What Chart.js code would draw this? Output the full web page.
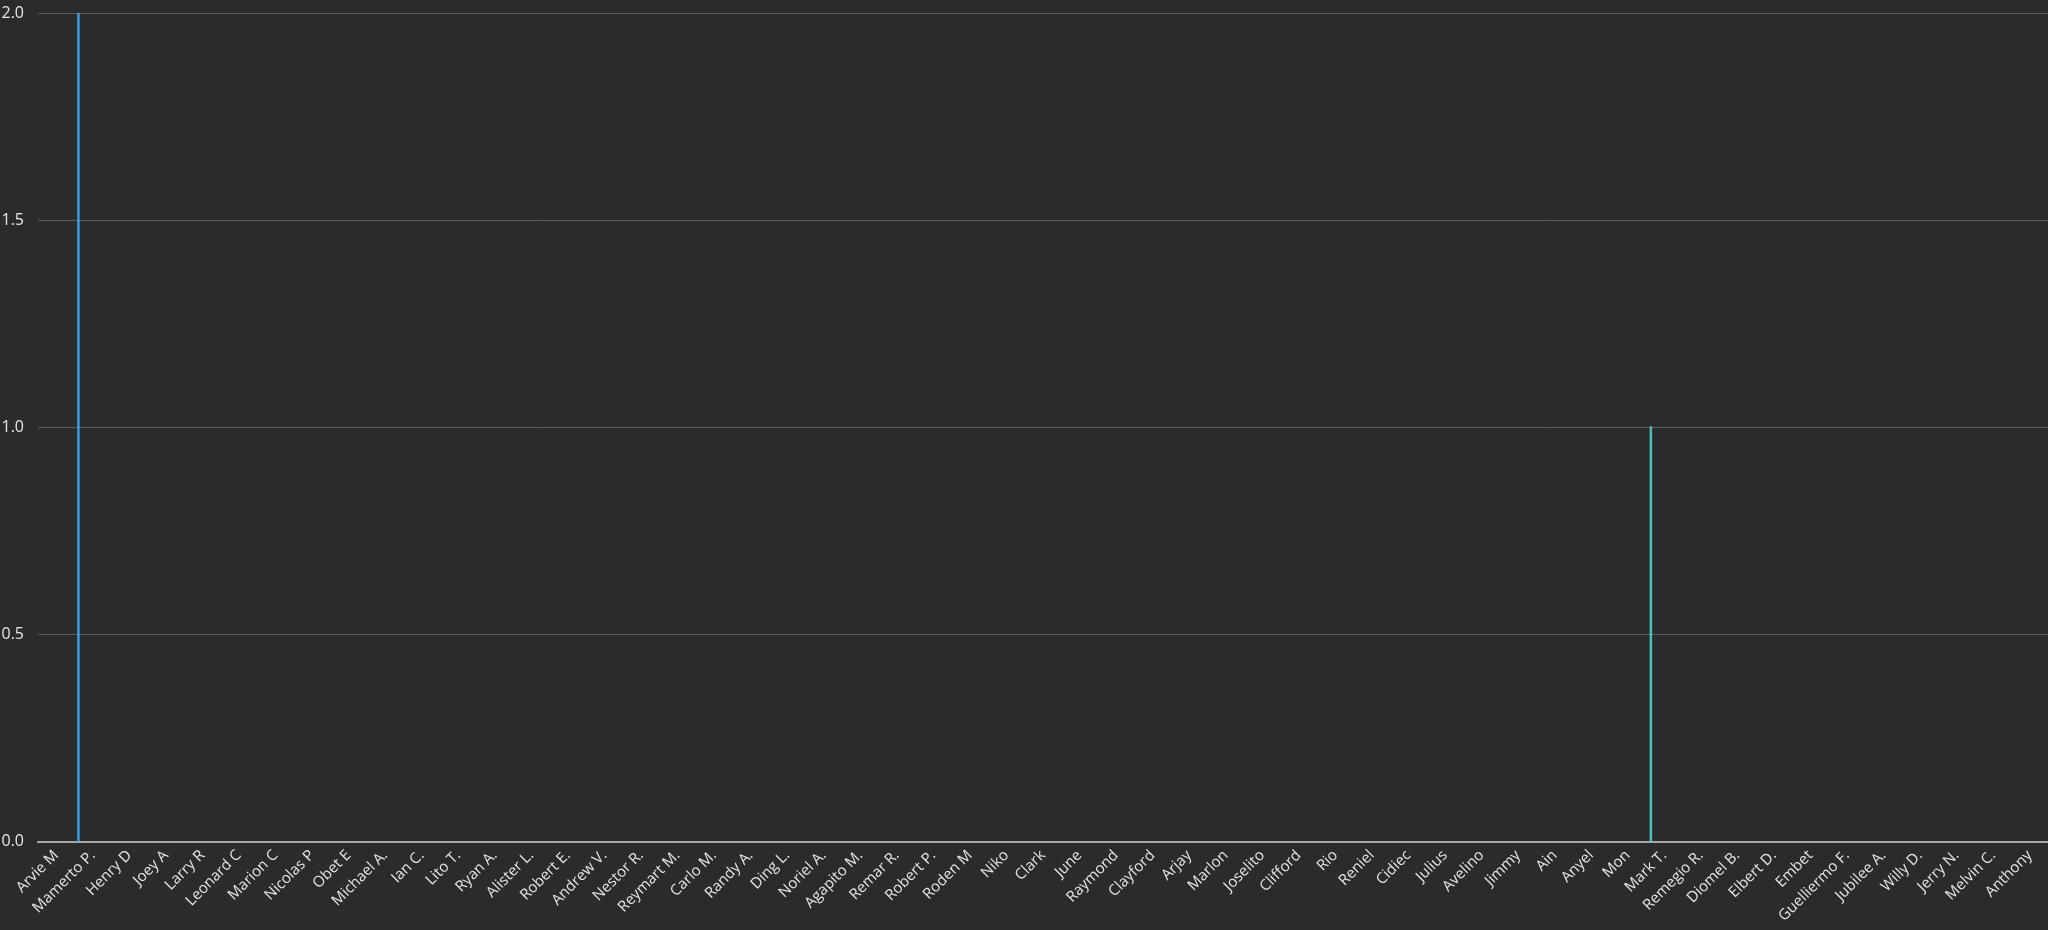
<!DOCTYPE html>
<html>
<head>
<meta charset="utf-8">
<script src="https://cdn.jsdelivr.net/npm/chart.js@4.4.1/dist/chart.umd.min.js"></script>
<style>
  html, body { margin: 0; padding: 0; background: #2b2b2b; }
  #wrap { width: 2048px; height: 930px; position: relative; }
</style>
</head>
<body>
<div id="wrap"><canvas id="myChart"></canvas></div>
<script>
var names = [
  'Arvie M', 'Mamerto P.', 'Henry D', 'Joey A', 'Larry R', 'Leonard C', 'Marion C',
  'Nicolas P', 'Obet E', 'Michael A.', 'Ian C.', 'Lito T.', 'Ryan A.', 'Alister L.',
  'Robert E.', 'Andrew V.', 'Nestor R.', 'Reymart M.', 'Carlo M.', 'Randy A.', 'Ding L.',
  'Noriel A.', 'Agapito M.', 'Remar R.', 'Robert P.', 'Roden M', 'Niko', 'Clark', 'June',
  'Raymond', 'Clayford', 'Arjay', 'Marlon', 'Joselito', 'Clifford', 'Rio', 'Reniel',
  'Cidiec', 'Julius', 'Avelino', 'Jimmy', 'Ain', 'Anyel', 'Mon', 'Mark T.', 'Remegio R.',
  'Diomel B.', 'Elbert D.', 'Embet', 'Guelliermo F.', 'Jubilee A.', 'Willy D.', 'Jerry N.',
  'Melvin C.', 'Anthony'
];

// the two series that have counts (first and third slot of each group)
var firstSeries = [
  0, 2, 0, 0, 0, 0, 0, 0, 0, 0, 0, 0, 0, 0, 0, 0, 0, 0, 0, 0, 0, 0, 0, 0, 0, 0, 0, 0,
  0, 0, 0, 0, 0, 0, 0, 0, 0, 0, 0, 0, 0, 0, 0, 0, 0, 0, 0, 0, 0, 0, 0, 0, 0, 0, 0
];
var thirdSeries = [
  0, 0, 0, 0, 0, 0, 0, 0, 0, 0, 0, 0, 0, 0, 0, 0, 0, 0, 0, 0, 0, 0, 0, 0, 0, 0, 0, 0,
  0, 0, 0, 0, 0, 0, 0, 0, 0, 0, 0, 0, 0, 0, 0, 0, 1, 0, 0, 0, 0, 0, 0, 0, 0, 0, 0
];
var yTickLabels = ['0.0', '0.5', '1.0', '1.5', '2.0'];

var palette = ['#36A2EB', '#FF6384', '#4BC0C0', '#FF9F40', '#9966FF', '#FFCD56', '#C9CBCF'];
var groupSize = 60;

// grouped bars: every series gets a slot in each name's group, most are empty
var datasets = [];
for (var i = 0; i < groupSize; i++) {
  var d = [];
  if (i === 0) d = firstSeries;
  if (i === 2) d = thirdSeries;
  datasets.push({
    data: d,
    backgroundColor: palette[i % palette.length],
    borderWidth: 0,
    // thin slots: widen only the bars that have a value
    inflateAmount: function (c) { return c.raw ? 1 : 0; }
  });
}

var ctx = document.getElementById('myChart');
var myBarChart = new Chart(ctx, {
  type: 'bar',
  data: { labels: names, datasets: datasets },
  options: {
    responsive: true,
    maintainAspectRatio: false,
    animation: false,
    layout: { padding: 0 },
    plugins: {
      legend: { display: false },
      tooltip: { enabled: false }
    },
    scales: {
      x: {
        grid: { display: false, drawTicks: false },
        border: { display: true, color: '#a8a8a8', width: 2 },
        ticks: {
          color: '#e6e6e6',
          font: { family: 'Open Sans', size: 15 },
          minRotation: 45,
          maxRotation: 45,
          autoSkip: false,
          padding: 5
        }
      },
      y: {
        min: 0,
        max: 2,
        afterFit: function (scale) { scale.width = 38; scale.paddingTop = 13; },
        grid: { color: '#5c5c5c', lineWidth: 1, drawTicks: false },
        border: { display: false },
        ticks: {
          stepSize: 0.5,
          color: '#e6e6e6',
          font: { family: 'Open Sans', size: 16 },
          padding: 14,
          callback: function (v, idx) { return yTickLabels[idx]; }
        }
      }
    }
  }
});
</script>
</body>
</html>
